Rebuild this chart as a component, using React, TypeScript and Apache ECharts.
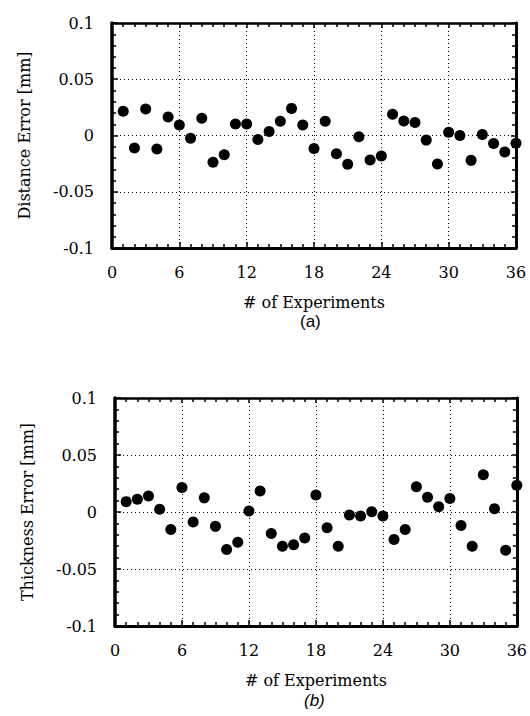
import React, { useEffect, useRef } from "react";
import * as echarts from "echarts";

const experiments = Array.from({ length: 36 }, (_, i) => i + 1);

const distanceError = [
  0.0215, -0.0112, 0.0235, -0.012, 0.0165, 0.0094, -0.0024, 0.0153, -0.0238, -0.0171,
  0.0103, 0.0103, -0.0035, 0.0035, 0.0126, 0.0241, 0.0094, -0.0115, 0.0126, -0.0162,
  -0.0256, -0.0012, -0.0218, -0.0182, 0.0188, 0.0129, 0.0115, -0.0041, -0.0253, 0.0029,
  0.0, -0.0221, 0.0009, -0.0071, -0.0147, -0.0068,
];

const thicknessError = [
  0.0091, 0.0112, 0.0141, 0.0024, -0.0153, 0.0215, -0.0088, 0.0124, -0.0126, -0.0329,
  -0.0265, 0.0009, 0.0185, -0.0188, -0.03, -0.0288, -0.0229, 0.015, -0.0138, -0.03,
  -0.0026, -0.0035, 0.0003, -0.0035, -0.0241, -0.0153, 0.0221, 0.0129, 0.0047, 0.0118,
  -0.0118, -0.03, 0.0326, 0.0029, -0.0335, 0.0235,
];

const xTickValues = [0, 6, 12, 18, 24, 30, 36];
const xTickLabels = ["0", "6", "12", "18", "24", "30", "36"];
const yTickValues = [-0.1, -0.05, 0, 0.05, 0.1];
const yTickLabels = ["-0.1", "-0.05", "0", "0.05", "0.1"];

const xName = "# of Experiments";
const yNames = ["Distance Error [mm]", "Thickness Error [mm]"];
const panelLabels = ["(a)", "(b)"];

const FONT = "DejaVu Serif";

function fmtX(v: number) {
  const i = xTickValues.findIndex((t) => Math.abs(t - v) < 1e-6);
  return i >= 0 ? xTickLabels[i] : "";
}
function fmtY(v: number) {
  const i = yTickValues.findIndex((t) => Math.abs(t - v) < 1e-6);
  return i >= 0 ? yTickLabels[i] : "";
}

const gridLine = { show: true, lineStyle: { color: "#000", width: 1, type: [1, 3] as any } };

function xAxes(gridIndex: number) {
  return [
    {
      type: "value",
      gridIndex,
      position: "bottom",
      min: 0,
      max: 36,
      interval: 6,
      axisLine: { show: true, onZero: false, lineStyle: { color: "#000", width: 3 } },
      axisTick: { show: true, inside: true, length: 6, lineStyle: { color: "#000", width: 1.5 } },
      minorTick: { show: true, splitNumber: 6, length: 4, lineStyle: { color: "#000", width: 1.5 } },
      splitLine: gridLine,
      axisLabel: { show: true, color: "#000", fontFamily: FONT, fontSize: 16, margin: 16, formatter: fmtX },
      name: xName,
      nameLocation: "middle",
      nameGap: 46,
      nameTextStyle: { color: "#000", fontFamily: FONT, fontSize: 16 },
    },
    {
      type: "value",
      gridIndex,
      position: "top",
      min: 0,
      max: 36,
      interval: 6,
      axisLine: { show: true, onZero: false, lineStyle: { color: "#000", width: 2.5 } },
      axisTick: { show: true, inside: true, length: 5, lineStyle: { color: "#000", width: 1.5 } },
      minorTick: { show: true, splitNumber: 6, length: 4, lineStyle: { color: "#000", width: 1.5 } },
      splitLine: { show: false },
      axisLabel: { show: false },
    },
  ];
}

function yAxes(gridIndex: number, name: string) {
  return [
    {
      type: "value",
      gridIndex,
      position: "left",
      min: -0.1,
      max: 0.1,
      interval: 0.05,
      axisLine: { show: true, onZero: false, lineStyle: { color: "#000", width: 3.5 } },
      axisTick: { show: true, inside: true, length: 6, lineStyle: { color: "#000", width: 1.5 } },
      minorTick: { show: true, splitNumber: 5, length: 4, lineStyle: { color: "#000", width: 1.5 } },
      splitLine: gridLine,
      axisLabel: { show: true, color: "#000", fontFamily: FONT, fontSize: 16, margin: 18, formatter: fmtY },
      name,
      nameLocation: "middle",
      nameRotate: 90,
      nameGap: 80,
      nameTextStyle: { color: "#000", fontFamily: FONT, fontSize: 16 },
    },
    {
      type: "value",
      gridIndex,
      position: "right",
      min: -0.1,
      max: 0.1,
      interval: 0.05,
      axisLine: { show: true, onZero: false, lineStyle: { color: "#000", width: 3 } },
      axisTick: { show: true, inside: true, length: 5, lineStyle: { color: "#000", width: 1.5 } },
      minorTick: { show: true, splitNumber: 5, length: 4, lineStyle: { color: "#000", width: 1.5 } },
      splitLine: { show: false },
      axisLabel: { show: false },
    },
  ];
}

export default function App() {
  const ref = useRef<HTMLDivElement>(null);
  useEffect(() => {
    if (!ref.current) return;
    const chart = echarts.init(ref.current, null, { renderer: "svg" });
    chart.setOption({
      animation: false,
      backgroundColor: "#fff",
      grid: [
        { left: 112, top: 23, width: 404, height: 225 },
        { left: 115, top: 398, width: 406, height: 228 },
      ],
      xAxis: [...xAxes(0), ...xAxes(1)],
      yAxis: [...yAxes(0, yNames[0]), ...yAxes(1, yNames[1])],
      graphic: [
        {
          type: "text",
          left: 300,
          top: 313,
          style: { text: panelLabels[0], fill: "#000", font: "17px 'Liberation Sans'" },
        },
        {
          type: "text",
          left: 304,
          top: 692,
          style: { text: panelLabels[1], fill: "#000", font: "italic 17px 'Liberation Sans'" },
        },
      ],
      series: [
        {
          type: "scatter",
          xAxisIndex: 0,
          yAxisIndex: 0,
          symbol: "circle",
          symbolSize: 11,
          itemStyle: { color: "#000", opacity: 1 },
          data: experiments.map((x, i) => [x, distanceError[i]]),
        },
        {
          type: "scatter",
          xAxisIndex: 2,
          yAxisIndex: 2,
          symbol: "circle",
          symbolSize: 11,
          itemStyle: { color: "#000", opacity: 1 },
          data: experiments.map((x, i) => [x, thicknessError[i]]),
        },
      ],
    });
    return () => chart.dispose();
  }, []);
  return (
    <div
      ref={ref}
      style={{ position: "fixed", left: 0, top: 0, width: 530, height: 716, background: "#fff" }}
    />
  );
}
